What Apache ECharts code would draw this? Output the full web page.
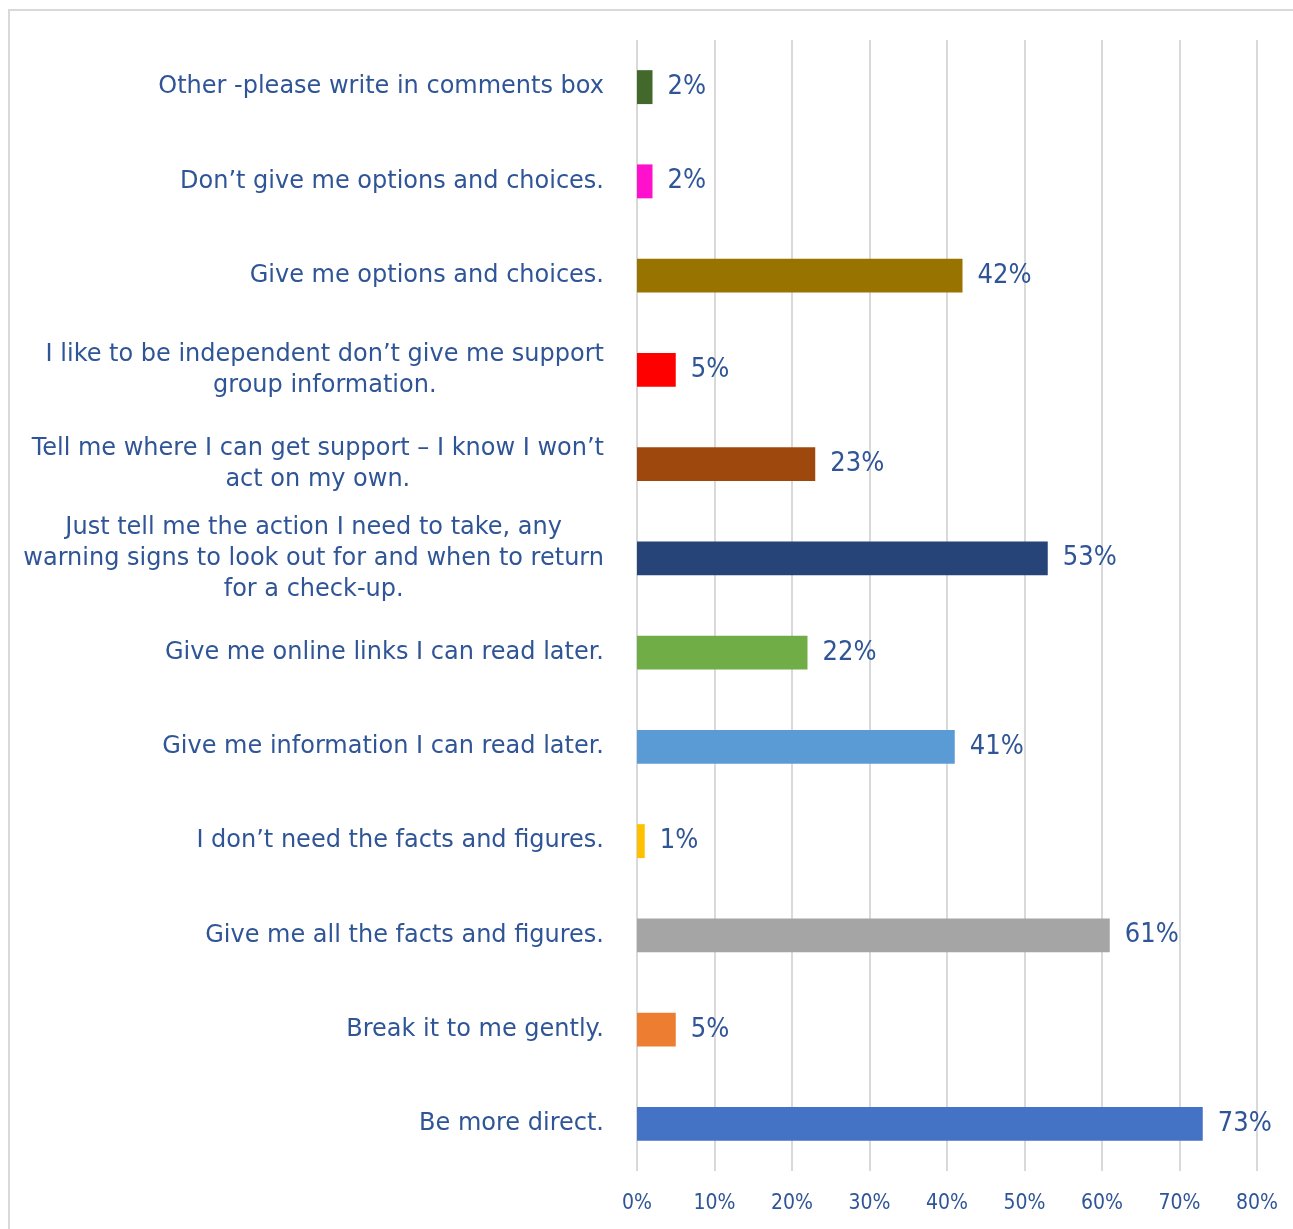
<!DOCTYPE html>
<html>
<head>
<meta charset="utf-8">
<script src="https://cdn.jsdelivr.net/npm/echarts@6/dist/echarts.min.js"></script>
<style>
  html, body { margin: 0; padding: 0; background: #fff; overflow: hidden; }
  #frame { position: absolute; left: 8px; top: 9px; width: 1400px; height: 1400px;
           border: 2px solid #d9d9d9; box-sizing: border-box; }
  #chart { position: absolute; left: 0; top: 0; width: 1293px; height: 1229px; }
</style>
</head>
<body>
<div id="frame"></div>
<div id="chart"></div>
<script>
// Survey responses, listed top to bottom
const categories = [
  'Other -please write in comments box',
  'Don\u2019t give me options and choices.',
  'Give me options and choices.',
  'I like to be independent don\u2019t give me support\ngroup information.',
  'Tell me where I can get support \u2013 I know I won\u2019t\nact on my own.',
  'Just tell me the action I need to take, any\nwarning signs to look out for and when to return\nfor a check-up.',
  'Give me online links I can read later.',
  'Give me information I can read later.',
  'I don\u2019t need the facts and figures.',
  'Give me all the facts and figures.',
  'Break it to me gently.',
  'Be more direct.'
];
const percentages = [2, 2, 42, 5, 23, 53, 22, 41, 1, 61, 5, 73];
const barColors = ['#43682B', '#FF10CC', '#997300', '#FF0000', '#9E480E', '#264478',
                   '#70AD47', '#5B9BD5', '#FFC000', '#A5A5A5', '#ED7D31', '#4472C4'];
const tickValues = [0, 10, 20, 30, 40, 50, 60, 70, 80];

const textColor = '#2F5597';
const labelFont = '"DejaVu Sans", sans-serif';
const numberFont = '"DejaVu Sans Condensed", "DejaVu Sans", sans-serif';

const chart = echarts.init(document.getElementById('chart'), null, { renderer: 'canvas' });
chart.setOption({
  animation: false,
  backgroundColor: 'transparent',
  grid: { left: 637, right: 36, top: 40, bottom: 58, containLabel: false },
  xAxis: {
    type: 'value',
    min: tickValues[0],
    max: tickValues[tickValues.length - 1],
    interval: 10,
    axisLine: { show: false },
    axisTick: { show: false },
    splitLine: { show: true, lineStyle: { color: '#d9d9d9', width: 2 } },
    axisLabel: {
      margin: 22,
      color: textColor,
      fontFamily: numberFont,
      fontSize: 21,
      formatter: v => v + '%'
    }
  },
  yAxis: {
    type: 'category',
    inverse: true,
    data: categories,
    axisLine: { show: false },
    axisTick: { show: false },
    axisLabel: {
      margin: 33,
      align: 'right',
      formatter: s => s.split('\n').map(line => '{c|' + line + '}').join('\n'),
      rich: {
        c: {
          align: 'center',
          color: textColor,
          fontFamily: labelFont,
          fontSize: 24,
          lineHeight: 31
        }
      }
    }
  },
  series: [{
    type: 'bar',
    barWidth: '36%',
    data: percentages.map((v, i) => ({ value: v, itemStyle: { color: barColors[i] } })),
    label: {
      show: true,
      position: 'right',
      distance: 15,
      color: textColor,
      fontFamily: numberFont,
      fontSize: 27,
      formatter: p => p.value + '%'
    }
  }]
});
</script>
</body>
</html>
